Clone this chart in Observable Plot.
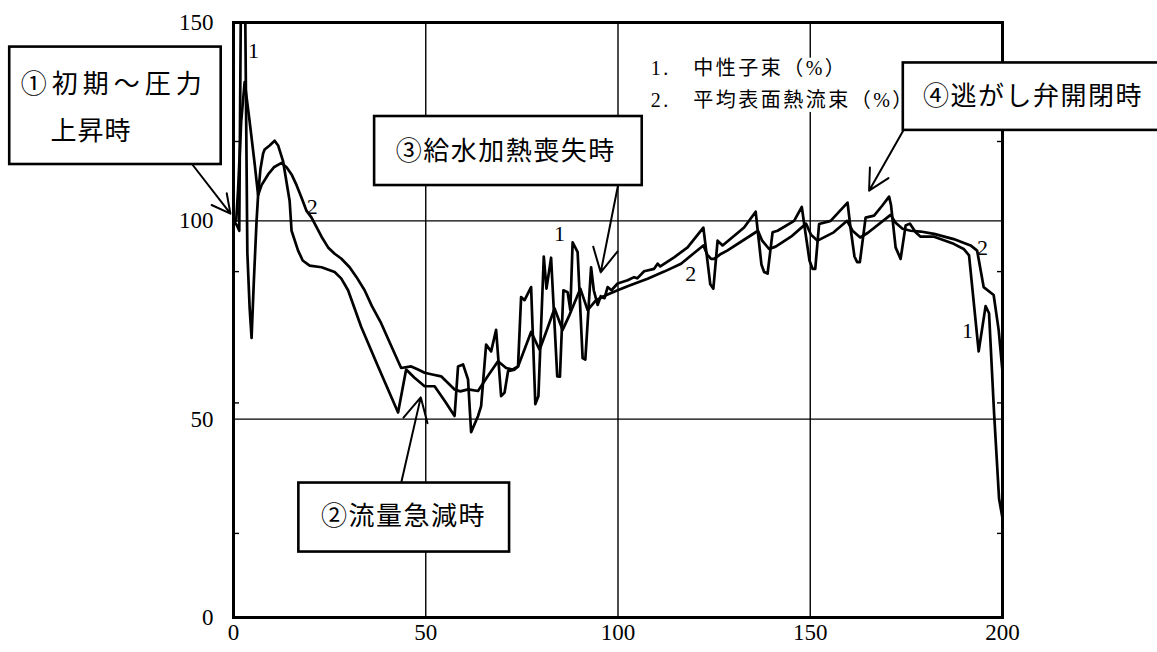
<!DOCTYPE html>
<html>
<head>
<meta charset="utf-8">
<script src="https://cdn.jsdelivr.net/npm/d3@7"></script>
<script src="https://cdn.jsdelivr.net/npm/@observablehq/plot@0.6"></script>
<style>
  html, body { margin: 0; padding: 0; background: #fff; }
  #chart svg { display: block; }
</style>
</head>
<body>
<div id="chart"></div>
<script>
// ---- data (time in s, values in %) ----
const neutronT = [0, 0.8, 1.5, 2.1, 2.8, 3.6, 4.2, 4.7, 5.3, 6.0, 6.4, 7.0, 7.7, 8.1, 9.4, 10.7, 11.6, 12.9, 14.6, 15.1, 16.8, 18.0, 19.8, 22.9, 26.3, 28.0, 29.8, 33.2, 37.6, 42.8, 44.9, 47.0, 49.7, 52.3, 55.0, 57.5, 58.4, 59.7, 61.0, 61.8, 63.6, 64.4, 65.7, 67.0, 68.3, 69.6, 70.5, 71.4, 73.1, 74.0, 74.8, 75.7, 77.4, 78.5, 79.3, 80.7, 81.4, 82.6, 84.2, 84.9, 85.8, 86.9, 87.6, 88.2, 89.5, 90.8, 91.5, 93.0, 93.7, 94.7, 95.5, 96.5, 97.3, 98.3, 99.9, 102.5, 104.2, 105.0, 106.8, 109.4, 110.3, 111.0, 114.6, 118.1, 122.2, 123.0, 124.0, 124.8, 125.9, 127.2, 132.8, 135.8, 136.4, 137.3, 138.0, 138.9, 140.2, 141.5, 145.8, 147.8, 148.6, 149.8, 150.6, 151.3, 152.3, 155.3, 159.7, 160.5, 161.5, 162.2, 162.9, 164.4, 166.6, 168.7, 170.5, 171.0, 172.2, 173.5, 174.8, 175.9, 177.4, 178.7, 182.2, 187.3, 189.9, 191.3, 193.8, 195.6, 196.5, 197.8, 199.1, 200];
const neutronV = [100, 99, 97.5, 180, 180, 92, 78, 70.5, 85, 100, 106.5, 113, 117, 118, 119, 120.2, 119, 115, 105, 97.5, 92.5, 90, 88.7, 88.3, 87.1, 85.5, 82.5, 73.3, 63.3, 51.7, 62.5, 60.5, 58.3, 58.3, 54.5, 50.8, 63.3, 63.8, 60, 46.7, 50.8, 53.3, 68.8, 67.1, 72.5, 55.8, 56.7, 62.1, 62.5, 63.3, 80.8, 80, 83.3, 53.8, 55.8, 91, 82.9, 90.7, 60.8, 60.7, 82.5, 82, 77.5, 94.6, 92.1, 65.4, 65, 88.3, 82.5, 78.8, 81, 80.5, 83.3, 82.5, 84.2, 85, 85.8, 85.5, 87.3, 87.9, 89.2, 88.5, 90.8, 93.3, 98.3, 92, 84, 82.9, 95, 93.8, 98.3, 102.3, 97, 89, 87.1, 86.7, 97.1, 97.5, 100, 103.5, 98, 90, 87.9, 87.9, 99.2, 100, 104.6, 98, 91, 89.6, 89.6, 100.8, 101.3, 103.8, 106.1, 104, 93.3, 90.4, 98.8, 99.3, 97.1, 96, 96, 94.2, 92.9, 91.3, 67.1, 78.5, 76.7, 51.7, 30, 25];

const heatT = [0, 0.7, 1.2, 2.0, 2.9, 4.2, 5.5, 6.4, 7.3, 9.0, 10.5, 12.5, 13.8, 15.1, 16.4, 17.7, 19.0, 20.3, 22.9, 24.6, 26.3, 28.0, 30.2, 32.0, 34.1, 36.0, 38.4, 41.0, 43.6, 46.2, 48.0, 49.7, 52.0, 54.0, 57.5, 59.0, 61.0, 63.6, 66.1, 68.8, 70.9, 72.5, 74.0, 77.4, 79.6, 81.5, 83.5, 85.6, 87.4, 90.2, 92.1, 94.3, 97.0, 99.9, 103.0, 107.7, 112.0, 116.4, 122.2, 123.2, 124.2, 125.0, 126.5, 128.4, 134.5, 136.4, 137.5, 139.3, 141.0, 145.0, 148.9, 150.2, 151.9, 156.1, 159.6, 161.0, 163.0, 165.0, 170.9, 172.2, 174.0, 176.1, 178.7, 182.2, 187.3, 191.7, 193.4, 195.1, 197.7, 199.0, 200];
const heatV = [100, 100, 108, 125, 135, 125, 114.4, 106.5, 109, 111.7, 113.5, 114.6, 113.5, 111.7, 109, 105.8, 102.5, 100.8, 96, 93.3, 91.7, 90.5, 88.3, 85.8, 82.5, 78.5, 74.2, 68.5, 62.9, 63.3, 62.5, 61.7, 61.2, 60.8, 57.5, 57, 57.5, 57.1, 60.8, 64.6, 62.9, 62.5, 63.3, 72, 67.5, 72.5, 77.9, 72.5, 76.3, 82.9, 77.5, 80, 81.3, 82.5, 83.7, 85.4, 87.2, 89.2, 93.8, 91.5, 90.4, 90.4, 91.5, 92.5, 96.3, 97.5, 95, 92.9, 93.5, 96, 99.3, 96.5, 95, 97.1, 100, 97.5, 95.8, 97, 101.5, 99.5, 98, 97.5, 97.3, 96.7, 95.4, 93.8, 92.5, 83.3, 81.3, 72.5, 62];

// ---- axes ----
const xTicks = [0, 50, 100, 150, 200];
const yTicks = [0, 50, 100, 150];
const xGridValues = [50, 100, 150];
const yGridValues = [50, 100];
const yMinorTicks = [21.2, 54.1, 87.2, 120];

// ---- texts ----
const legendLines = ["1.\u3000中性子束（%）", "2.\u3000平均表面熱流束（%）"];
const legendV = [138.3, 130.3];
const curveLabelText = ["1", "2", "1", "2", "2", "1"];
const curveLabelT = [5.2, 20.5, 84.8, 118.9, 194.8, 190.9];
const curveLabelV = [142.9, 103.4, 96.7, 86.6, 93.1, 72.3];

// annotation boxes (data coordinates of box corners, text anchor & arrow)
const boxes = [
  {x1: -58.2, x2: -3.2, y1: 114.2, y2: 143.8},
  {x1: 17.0, x2: 71.8, y1: 16.5, y2: 33.9},
  {x1: 36.7, x2: 106.3, y1: 108.9, y2: 126.3},
  {x1: 174.2, x2: 241.5, y1: 122.8, y2: 139.8}
];
const boxTexts = [
  {text: "①初期～圧力", x: -55.3, y: 134.4, anchor: "start"},
  {text: "上昇時", x: -47.6, y: 122.6, anchor: "start"},
  {text: "②流量急減時", x: 44.2, y: 25.3, anchor: "middle"},
  {text: "③給水加熱喪失時", x: 70.8, y: 117.4, anchor: "middle"},
  {text: "④逃がし弁開閉時", x: 179.3, y: 131.2, anchor: "start"}
];
const arrows = [
  {x1: -10.7, y1: 114.2, x2: -0.8, y2: 101.8},
  {x1: 43.6, y1: 33.9, x2: 48.7, y2: 55.5},
  {x1: 100.0, y1: 108.9, x2: 95.5, y2: 87.0},
  {x1: 174.2, y1: 122.8, x2: 165.3, y2: 107.6}
];
const legendBg = [{x1: 107.5, x2: 172.5, y1: 127.3, y2: 141.0}];

const neutron = neutronT.map((t, i) => ({t, v: neutronV[i]}));
const heat = heatT.map((t, i) => ({t, v: heatV[i]}));
const curveLabels = curveLabelText.map((s, i) => ({s, t: curveLabelT[i], v: curveLabelV[i]}));
const legend = legendLines.map((s, i) => ({s, v: legendV[i]}));

const serif = "'Liberation Serif', 'DejaVu Serif', 'Noto Sans CJK JP', serif";
const cjk = "'Liberation Serif', 'Noto Sans CJK JP', sans-serif";

const chart = Plot.plot({
  width: 1157,
  height: 652,
  marginLeft: 233,
  marginRight: 155,
  marginTop: 22,
  marginBottom: 35,
  x: {domain: [0, 200], axis: null},
  y: {domain: [0, 150], axis: null},
  style: {fontFamily: serif, fontSize: "21px", color: "black", background: "white"},
  marks: [
    Plot.gridX(xGridValues, {stroke: "black", strokeOpacity: 1, strokeWidth: 1.4}),
    Plot.gridY(yGridValues, {stroke: "black", strokeOpacity: 1, strokeWidth: 1.4}),
    Plot.axisY(yMinorTicks, {anchor: "left", tickSize: -6, tickFormat: () => "", label: null, strokeWidth: 1.4}),
    Plot.axisY(yMinorTicks, {anchor: "right", tickSize: -6, tickFormat: () => "", label: null, strokeWidth: 1.4}),
    Plot.line(neutron, {x: "t", y: "v", stroke: "black", strokeWidth: 2.7, clip: true}),
    Plot.line(heat, {x: "t", y: "v", stroke: "black", strokeWidth: 2.7, clip: true}),
    Plot.frame({stroke: "black", strokeWidth: 3}),
    // tick labels drawn as text marks anchored to the frame edges
    Plot.text(xTicks, {x: d => d, frameAnchor: "bottom", dy: 22, text: d => String(d), fontSize: 23, fontFamily: serif, fill: "black", clip: false}),
    Plot.text(yTicks, {y: d => d, frameAnchor: "left", dx: -20, textAnchor: "end", text: d => String(d), fontSize: 23, fontFamily: serif, fill: "black", clip: false}),
    Plot.rect(legendBg, {x1: "x1", x2: "x2", y1: "y1", y2: "y2", fill: "white"}),
    Plot.text(legend, {x: 108.5, y: "v", text: "s", textAnchor: "start", fontSize: 20, fontFamily: cjk, fill: "black"}),
    Plot.text(curveLabels, {x: "t", y: "v", text: "s", fontSize: 22, fontFamily: serif, fill: "black", clip: false}),
    Plot.arrow(arrows, {x1: "x1", y1: "y1", x2: "x2", y2: "y2", stroke: "black", strokeWidth: 2, headLength: 20, headAngle: 55, clip: false}),
    Plot.rect(boxes, {x1: "x1", x2: "x2", y1: "y1", y2: "y2", fill: "white", stroke: "black", strokeWidth: 2.6, clip: false}),
    Plot.text(boxTexts.filter(d => d.anchor === "start"), {x: "x", y: "y", text: "text", textAnchor: "start", fontSize: 26, fontFamily: cjk, fill: "black", clip: false}),
    Plot.text(boxTexts.filter(d => d.anchor === "middle"), {x: "x", y: "y", text: "text", textAnchor: "middle", fontSize: 26, fontFamily: cjk, fill: "black", clip: false})
  ]
});

// letter spacing adjustments for Japanese texts
d3.select(chart).selectAll("text").each(function() {
  const t = this.textContent;
  if (t === "①初期～圧力") this.style.letterSpacing = "5px";
  else if (t === "上昇時") this.style.letterSpacing = "1px";
  else if (t.startsWith("1.") || t.startsWith("2.")) this.style.letterSpacing = "2.5px";
  else if (/[流給逃]/.test(t)) this.style.letterSpacing = "1.5px";
});

document.getElementById("chart").appendChild(chart);
</script>
</body>
</html>
